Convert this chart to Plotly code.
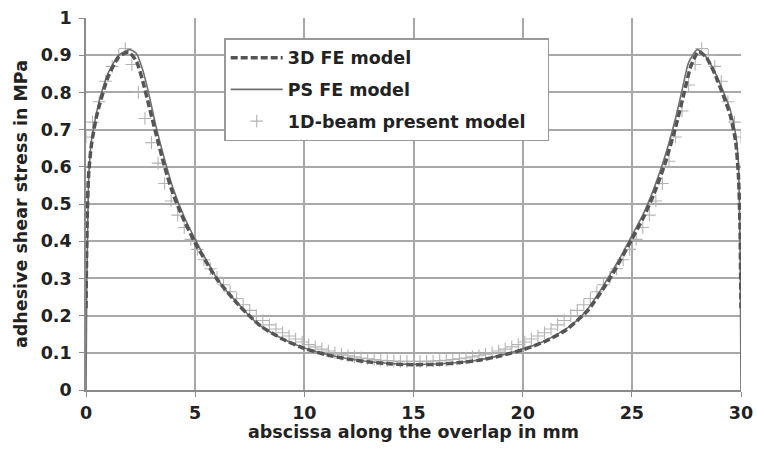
import plotly.graph_objects as go

# ---- data ----
fe3d_x = [0, 0.05, 0.12, 0.25, 0.5, 1.0, 1.5, 1.95, 2.3, 2.6, 2.9, 3.2, 3.6, 4.0, 4.5, 5.0,
          5.5, 6.0, 7.0, 8.0, 9.0, 10, 11, 12, 13, 14, 15, 16, 17, 18, 19, 20, 21, 22, 23,
          24, 25, 25.5, 26, 26.5, 27, 27.4, 27.7, 28.05, 28.4, 28.8, 29.2, 29.5, 29.75,
          29.88, 29.95, 30]
fe3d_y = [0.22, 0.45, 0.58, 0.66, 0.74, 0.84, 0.895, 0.908, 0.885, 0.83, 0.76, 0.69, 0.60,
          0.525, 0.455, 0.395, 0.345, 0.298, 0.228, 0.172, 0.137, 0.112, 0.095, 0.083,
          0.075, 0.070, 0.068, 0.069, 0.073, 0.080, 0.092, 0.108, 0.130, 0.162, 0.215,
          0.300, 0.405, 0.460, 0.525, 0.605, 0.705, 0.800, 0.870, 0.910, 0.895, 0.850,
          0.790, 0.740, 0.670, 0.580, 0.450, 0.22]

ps_x = [0, 0.03, 0.08, 0.13, 0.25, 0.4, 0.62, 1.0, 1.5, 2.0, 2.3, 2.6, 2.9, 3.2, 3.6, 4.0,
        4.5, 5.0, 5.5, 6.0, 6.5, 7.0, 7.5, 8.0, 9.0, 10, 11, 12, 13, 14, 15, 16, 17, 18, 19,
        20, 21, 22, 22.5, 23, 23.5, 24, 24.5, 25, 25.5, 26, 26.5, 27, 27.3, 27.6, 28.0,
        28.4, 28.8, 29.1, 29.5, 29.75, 29.87, 29.93, 29.97, 30]
ps_y = [0.0, 0.25, 0.45, 0.58, 0.67, 0.72, 0.78, 0.85, 0.90, 0.915, 0.905, 0.86, 0.79,
        0.71, 0.62, 0.54, 0.465, 0.405, 0.35, 0.30, 0.262, 0.23, 0.198, 0.172, 0.138,
        0.113, 0.096, 0.084, 0.076, 0.071, 0.069, 0.070, 0.074, 0.081, 0.093, 0.110,
        0.132, 0.165, 0.188, 0.22, 0.262, 0.31, 0.36, 0.415, 0.47, 0.54, 0.625, 0.73,
        0.806, 0.88, 0.915, 0.895, 0.855, 0.815, 0.755, 0.69, 0.62, 0.50, 0.30, 0.0]

beam_x = [0.0, 0.3, 0.6, 0.9, 1.2, 1.5, 1.8, 2.1, 2.4, 2.7, 3.0, 3.3, 3.6, 3.9, 4.2, 4.5,
          4.8, 5.1, 5.4, 5.7, 6.0, 6.3, 6.6, 6.9, 7.2, 7.5, 7.8, 8.1, 8.4, 8.7, 9.0, 9.3,
          9.6, 9.9, 10.2, 10.5, 10.8, 11.1, 11.4, 11.7, 12.0, 12.3, 12.6, 12.9, 13.2, 13.5,
          13.8, 14.1, 14.4, 14.7, 15.0, 15.3, 15.6, 15.9, 16.2, 16.5, 16.8, 17.1, 17.4,
          17.7, 18.0, 18.3, 18.6, 18.9, 19.2, 19.5, 19.8, 20.1, 20.4, 20.7, 21.0, 21.3,
          21.6, 21.9, 22.2, 22.5, 22.8, 23.1, 23.4, 23.7, 24.0, 24.3, 24.6, 24.9, 25.2,
          25.5, 25.8, 26.1, 26.4, 26.7, 27.0, 27.3, 27.6, 27.9, 28.2, 28.5, 28.8, 29.1,
          29.4, 29.7, 30.0]
beam_y = [0.68, 0.72, 0.775, 0.83, 0.87, 0.90, 0.918, 0.875, 0.80, 0.73, 0.665, 0.61,
          0.555, 0.508, 0.47, 0.437, 0.405, 0.378, 0.35, 0.326, 0.303, 0.283, 0.264, 0.246,
          0.229, 0.214, 0.200, 0.187, 0.175, 0.164, 0.154, 0.145, 0.137, 0.129, 0.122,
          0.116, 0.110, 0.105, 0.100, 0.096, 0.092, 0.089, 0.086, 0.084, 0.082, 0.080,
          0.079, 0.078, 0.077, 0.077, 0.077, 0.077, 0.077, 0.078, 0.079, 0.080, 0.082,
          0.084, 0.086, 0.089, 0.092, 0.096, 0.100, 0.105, 0.110, 0.116, 0.122, 0.129,
          0.137, 0.145, 0.154, 0.164, 0.175, 0.187, 0.200, 0.214, 0.229, 0.246, 0.264,
          0.283, 0.303, 0.326, 0.35, 0.378, 0.405, 0.437, 0.47, 0.508, 0.555, 0.615,
          0.68, 0.75, 0.82, 0.875, 0.918, 0.90, 0.87, 0.83, 0.775, 0.72, 0.68]

x_ticks = [0, 5, 10, 15, 20, 25, 30]
x_labels = ["0", "5", "10", "15", "20", "25", "30"]
y_ticks = [0, 0.1, 0.2, 0.3, 0.4, 0.5, 0.6, 0.7, 0.8, 0.9, 1]
y_labels = ["0", "0.1", "0.2", "0.3", "0.4", "0.5", "0.6", "0.7", "0.8", "0.9", "1"]

x_title = "abscissa along the overlap in mm"
y_title = "adhesive shear stress in MPa"

FONT = "DejaVu Sans"
TXT = "#222222"

fig = go.Figure()
fig.add_trace(go.Scatter(
    x=beam_x, y=beam_y, mode="markers",
    name="<b>1D-beam present model</b>\u00a0\u00a0\u00a0",
    legendgroup="c", legendrank=3,
    marker=dict(symbol="cross-thin", size=9, line=dict(color="#b3b3b3", width=1.1)),
))
fig.add_trace(go.Scatter(
    x=ps_x, y=ps_y, mode="lines", name="<b>PS FE model</b>", legendgroup="b", legendrank=2,
    line=dict(color="#707070", width=1.6, shape="spline", smoothing=0.6),
))
fig.add_trace(go.Scatter(
    x=fe3d_x, y=fe3d_y, mode="lines", name="<b>3D FE model</b>", legendgroup="a",
    legendrank=1,
    line=dict(color="#555555", width=3.5, dash="7px,3px", shape="spline", smoothing=0.6),
))

axis_common = dict(
    showgrid=True, gridcolor="#a8a8a8", gridwidth=1.6,
    showline=True, linecolor="#8a8a8a", linewidth=1.6,
    ticks="outside", ticklen=5, tickcolor="#8a8a8a", tickwidth=1.4,
    zeroline=False, automargin=False,
    tickfont=dict(family=FONT, size=17.5, color=TXT),
)

fig.update_layout(
    width=757, height=452,
    margin=dict(l=86, r=16, t=18, b=62),
    paper_bgcolor="white", plot_bgcolor="white",
    font=dict(family=FONT, size=17.5, color=TXT),
    xaxis=dict(range=[0, 30], tickvals=x_ticks,
               ticktext=["<b>%s</b>" % s for s in x_labels],
               ticklabelstandoff=1, **axis_common),
    yaxis=dict(range=[0, 1], tickvals=y_ticks,
               ticktext=["<b>%s</b>" % s for s in y_labels],
               title=dict(text="<b>%s</b>" % y_title, standoff=9,
                          font=dict(family=FONT, size=17.5, color=TXT)),
               ticklabelstandoff=4, **axis_common),
    legend=dict(
        x=0.211, y=0.9455, xanchor="left", yanchor="top",
        bgcolor="white", bordercolor="#999999", borderwidth=1.5,
        font=dict(family=FONT, size=17.5, color=TXT),
        tracegroupgap=6, traceorder="grouped", itemwidth=52,
    ),
    annotations=[dict(
        text="<b>%s</b>" % x_title, xref="paper", yref="paper", x=0.5, y=-0.112,
        xanchor="center", yanchor="middle", showarrow=False,
        font=dict(family=FONT, size=17.5, color=TXT),
    )],
    showlegend=True,
)

fig.write_html("out.html", post_script="document.body.style.margin='0';",
               config={"displayModeBar": False})
